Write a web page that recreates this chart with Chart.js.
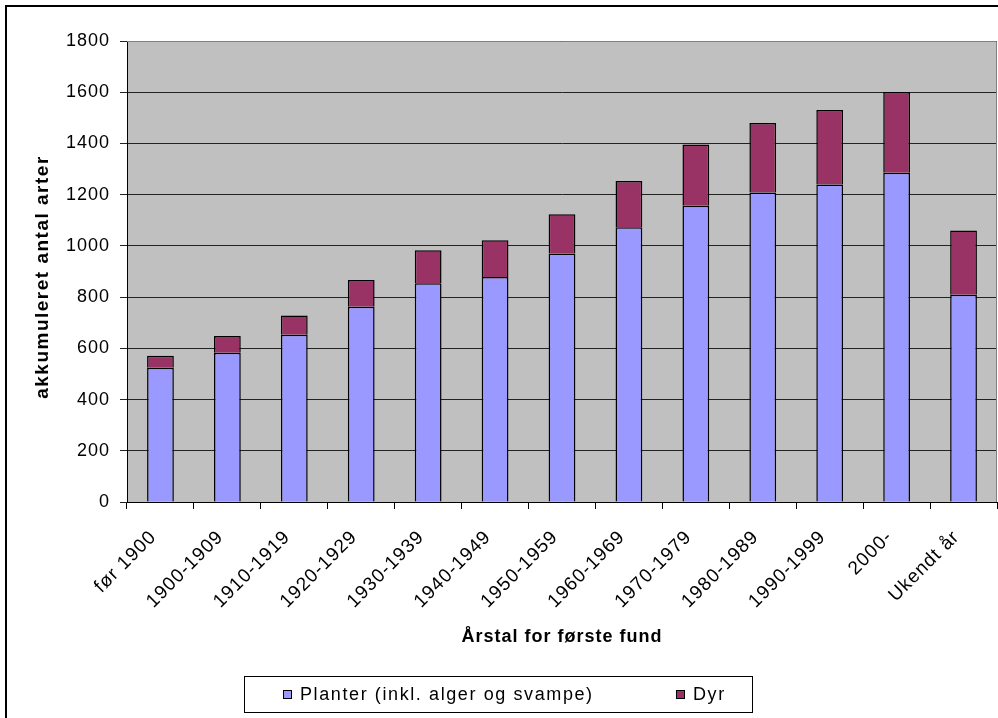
<!DOCTYPE html>
<html lang="da">
<head>
    <meta charset="UTF-8">
    <title>Akkumuleret antal arter</title>
    <script src="https://cdn.jsdelivr.net/npm/chart.js"></script>
    <style>
        html, body { margin: 0; padding: 0; background: #fff; }
        #wrap { width: 998px; height: 718px; position: relative; }
    </style>
</head>
<body>
    <div id="wrap"><canvas id="chart"></canvas></div>

    <script>
        // data
        const categories = ['før 1900', '1900-1909', '1910-1919', '1920-1929', '1930-1939', '1940-1949',
            '1950-1959', '1960-1969', '1970-1979', '1980-1989', '1990-1999', '2000-', 'Ukendt år'];
        const planter = [524, 583, 653, 762, 854, 879, 970, 1073, 1157, 1208, 1240, 1286, 809];
        const dyr = [47, 65, 75, 105, 129, 143, 154, 180, 239, 272, 291, 315, 251];
        const yTicks = [0, 200, 400, 600, 800, 1000, 1200, 1400, 1600, 1800];
        const yTitle = 'akkumuleret antal arter';

        const FONT = "'Liberation Sans', Arial, sans-serif";

        // excel look: grey plot area, borders, y title, legend box
        const excelLook = {
            id: 'excelLook',
            beforeLayout(chart) { chart.ctx.letterSpacing = '1px'; },
            beforeDraw(chart) {
                const ctx = chart.ctx, a = chart.chartArea;
                ctx.letterSpacing = '1px';
                ctx.save();
                ctx.fillStyle = '#c0c0c0';
                ctx.fillRect(a.left, a.top, a.right - a.left, a.bottom - a.top);
                // outer chart border (only left/top are inside the picture)
                ctx.strokeStyle = '#000';
                ctx.lineWidth = 2;
                ctx.beginPath();
                ctx.moveTo(6, 720);
                ctx.lineTo(6, 6);
                ctx.lineTo(1000, 6);
                ctx.stroke();

                // y axis title
                ctx.translate(43, 277);
                ctx.rotate(-Math.PI / 2);
                ctx.letterSpacing = '1.5px';
                ctx.font = 'bold 19px ' + FONT;
                ctx.fillStyle = '#000';
                ctx.textAlign = 'center';
                ctx.textBaseline = 'middle';
                ctx.fillText(yTitle, 0, 0);
                ctx.restore();
                ctx.letterSpacing = '1px';
            },
            afterDraw(chart) {
                const ctx = chart.ctx, a = chart.chartArea;
                ctx.save();
                ctx.strokeStyle = '#808080';
                ctx.lineWidth = 1;
                ctx.beginPath();
                ctx.moveTo(a.left, a.top + 0.5);
                ctx.lineTo(a.right - 0.5, a.top + 0.5);
                ctx.lineTo(a.right - 0.5, a.bottom);
                ctx.stroke();

                // legend
                const box = { x: 244, y: 676, w: 508, h: 36 };
                ctx.strokeStyle = '#000';
                ctx.strokeRect(box.x + 0.5, box.y + 0.5, box.w, box.h);
                const items = [{ x: 283 }, { x: 676 }];
                const cy = box.y + box.h / 2;
                ctx.font = '18px ' + FONT;
                ctx.letterSpacing = '1.6px';
                ctx.textBaseline = 'middle';
                ctx.textAlign = 'left';
                chart.data.datasets.forEach((ds, i) => {
                    const x = items[i].x;
                    ctx.fillStyle = ds.backgroundColor;
                    ctx.fillRect(x, cy - 4, 9, 9);
                    ctx.strokeStyle = '#000';
                    ctx.strokeRect(x + 0.5, cy - 3.5, 8, 8);
                    ctx.fillStyle = '#000';
                    ctx.fillText(ds.label, x + 17, cy + 1);
                });
                ctx.restore();
            }
        };

        const ctx = document.getElementById('chart').getContext('2d');
        new Chart(ctx, {
            type: 'bar',
            data: {
                labels: categories,
                datasets: [{
                    label: 'Planter (inkl. alger og svampe)',
                    data: planter,
                    backgroundColor: '#9999ff',
                    borderColor: '#000',
                    borderWidth: 1.5,
                    categoryPercentage: 1,
                    barPercentage: 0.4
                }, {
                    label: 'Dyr',
                    data: dyr,
                    backgroundColor: '#993366',
                    borderColor: '#000',
                    borderWidth: 1.5,
                    categoryPercentage: 1,
                    barPercentage: 0.4
                }]
            },
            options: {
                responsive: true,
                maintainAspectRatio: false,
                animation: false,
                layout: { padding: { left: 20, top: 41, right: 1, bottom: 70 } },
                plugins: {
                    legend: { display: false },
                    tooltip: { enabled: false }
                },
                scales: {
                    x: {
                        stacked: true,
                        afterFit(scale) { scale.height = 146; },
                        border: { color: '#000', width: 1 },
                        grid: { display: true, drawOnChartArea: false, offset: true, color: '#000', tickLength: 7 },
                        ticks: {
                            minRotation: 45, maxRotation: 45, autoSkip: false,
                            padding: 17, labelOffset: -7,
                            color: '#000', font: { family: FONT, size: 19 }
                        },
                        title: {
                            display: true, text: 'Årstal for første fund', color: '#000',
                            font: { family: FONT, size: 18, weight: 'bold' },
                            padding: { top: 0, bottom: 0 }
                        }
                    },
                    y: {
                        stacked: true,
                        min: 0, max: 1800,
                        afterFit(scale) { scale.width = 107; },
                        afterBuildTicks(scale) { scale.ticks = yTicks.map(v => ({ value: v })); },
                        border: { color: '#000', width: 1 },
                        grid: { color: '#222', tickLength: 7 },
                        ticks: {
                            padding: 10, color: '#000',
                            font: { family: FONT, size: 18 },
                            callback: v => String(v)
                        },
                        title: { display: false }
                    }
                }
            },
            plugins: [excelLook]
        });
    </script>
</body>
</html>
